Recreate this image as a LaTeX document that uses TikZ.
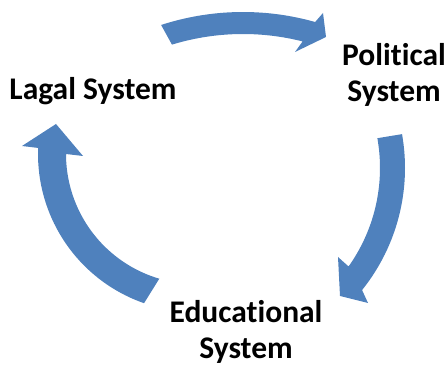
\documentclass[tikz,border=0pt]{standalone}
\usepackage{fontspec}
\setmainfont{Carlito}[Ligatures={NoCommon}]
\definecolor{arrowblue}{RGB}{79,129,189}
\begin{document}
\begin{tikzpicture}[x=1pt,y=-1pt,
  lbl/.style={font=\fontsize{31.5}{36}\selectfont\bfseries, align=center, inner sep=0pt, anchor=base},
  arr/.style={fill=arrowblue}]
\useasboundingbox (0,0) rectangle (448,366);
% top arrow: centre (243,277), radii 265 / 243
\fill[arr] plot[domain=-108:-74.2, samples=40, variable=\t] ({243+265*cos(\t)},{277+265*sin(\t)})
  -- (323,13) -- (326,37) -- (295,52)
  -- plot[domain=-75.8:-107, samples=40, variable=\t] ({243+243*cos(\t)},{277+243*sin(\t)}) -- cycle;
% right arrow: centre (210,168), radii 195 / 170
\fill[arr] plot[domain=-10:38.75, samples=40, variable=\t] ({210+195*cos(\t)},{168+195*sin(\t)})
  -- (368,303) -- (340,296) -- (338,257)
  -- plot[domain=35.4:-10.1, samples=40, variable=\t] ({210+170*cos(\t)},{168+170*sin(\t)}) -- cycle;
% left arrow: centre (196,154), radii 158 / 130
\fill[arr] plot[domain=109.2:182.2, samples=40, variable=\t] ({196+158*cos(\t)},{154+158*sin(\t)})
  -- (22,146) -- (56,124) -- (83,156)
  -- plot[domain=180:106.4, samples=40, variable=\t] ({196+130*cos(\t)},{154+130*sin(\t)}) -- cycle;
% labels
\node[lbl] (legal) at (93,100) {Lagal System};
\node[lbl] (political) at (394,102) {Political\\System};
\node[lbl] (educational) at (246,359) {Educational\\System};
\end{tikzpicture}
\end{document}
